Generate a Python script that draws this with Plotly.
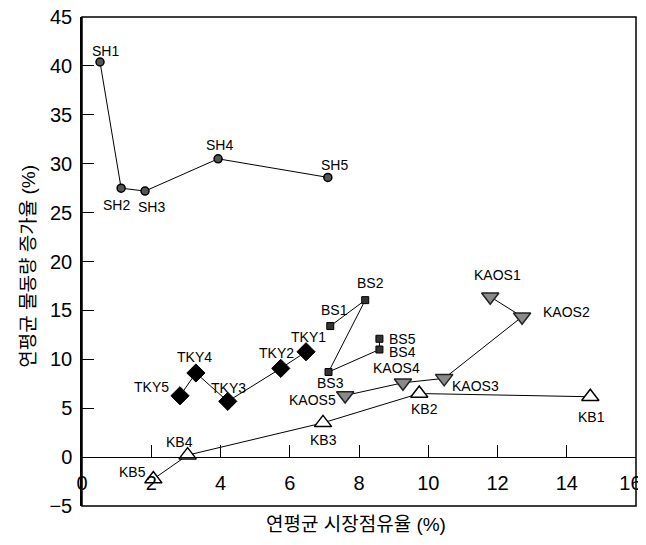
import plotly.graph_objects as go

# ---- data ----
sh_names = ["SH1", "SH2", "SH3", "SH4", "SH5"]
sh_x = [0.52, 1.13, 1.82, 3.93, 7.1]
sh_y = [40.4, 27.5, 27.2, 30.5, 28.6]

bs_names = ["BS1", "BS2", "BS3", "BS4", "BS5"]
bs_x = [7.17, 8.18, 7.12, 8.59, 8.59]
bs_y = [13.4, 16.05, 8.7, 11.0, 12.1]

kaos_names = ["KAOS1", "KAOS2", "KAOS3", "KAOS4", "KAOS5"]
kaos_x = [11.79, 12.71, 10.46, 9.27, 7.6]
kaos_y = [16.4, 14.35, 8.05, 7.6, 6.3]

kb_names = ["KB1", "KB2", "KB3", "KB4", "KB5"]
kb_x = [14.68, 9.74, 6.96, 3.05, 2.06]
kb_y = [6.17, 6.5, 3.5, 0.2, -2.25]

tky_names = ["TKY1", "TKY2", "TKY3", "TKY4", "TKY5"]
tky_x = [6.47, 5.74, 4.21, 3.29, 2.83]
tky_y = [10.77, 9.07, 5.7, 8.6, 6.27]

x_ticks = [0, 2, 4, 6, 8, 10, 12, 14, 16]
x_tick_labels = ["0", "2", "4", "6", "8", "10", "12", "14", "16\u00a0\u00a0"]
y_ticks = [-5, 0, 5, 10, 15, 20, 25, 30, 35, 40, 45]

# label offsets in pixels (style)
sh_off = [(5, 11), (-5, -17), (6, -16), (1, 14), (7, 12)]
bs_off = [(4, 16), (5, 17), (2, -11), (23, -2), (23, 0)]
kaos_off = [(7, 22), (44, 5), (31, -8), (-6, 15), (-33, -5)]
kb_off = [(1, -20), (5, -15), (1, -17), (-8, 13), (-21, 7)]
tky_off = [(2, 15), (-4, 15), (1, 13), (-1, 16), (-28, 9)]

FONT = "Liberation Sans, Arial, Noto Sans CJK KR, sans-serif"
fig = go.Figure()

series = [
    (sh_names, sh_x, sh_y, sh_off, dict(symbol="circle", size=8, color="#555555",
                                         line=dict(color="black", width=1.5))),
    (bs_names, bs_x, bs_y, bs_off, dict(symbol="square", size=7, color="#333333",
                                         line=dict(color="black", width=1))),
    (kaos_names, kaos_x, kaos_y, kaos_off, dict(symbol="triangle-down", size=15, color="#8a8a8a",
                                                 line=dict(color="#222222", width=1.5))),
    (kb_names, kb_x, kb_y, kb_off, dict(symbol="triangle-up", size=15, color="white",
                                         line=dict(color="black", width=1.5))),
    (tky_names, tky_x, tky_y, tky_off, dict(symbol="diamond", size=14, color="black",
                                             line=dict(color="black", width=1))),
]

annotations = []
for names, xs, ys, offs, mk in series:
    fig.add_trace(go.Scatter(x=xs, y=ys, mode="lines+markers",
                             line=dict(color="black", width=1), marker=mk,
                             showlegend=False, cliponaxis=False))
    for n, xv, yv, (dx, dy) in zip(names, xs, ys, offs):
        annotations.append(dict(x=xv, y=yv, text=n, showarrow=False,
                                xshift=dx, yshift=dy,
                                font=dict(size=14, color="black", family=FONT)))

annotations.append(dict(x=0.495, y=-0.012, xref="paper", yref="paper", xanchor="center",
                        yanchor="top", showarrow=False, text="연평균 시장점유율 (%)",
                        font=dict(size=19, color="black", family=FONT)))
annotations.append(dict(x=-0.097, y=0.49, xref="paper", yref="paper", xanchor="center",
                        yanchor="middle", showarrow=False, textangle=-90,
                        text="연평균 물동량 증가율 (%)",
                        font=dict(size=19, color="black", family=FONT)))

# page body adds an 8px margin at top/left, so the figure is sized/offset to compensate
fig.update_layout(
    width=638, height=537,
    margin=dict(l=74, r=10, t=9, b=39, autoexpand=False),
    paper_bgcolor="white", plot_bgcolor="white",
    font=dict(family=FONT, color="black"),
    annotations=annotations,
    shapes=[dict(type="rect", xref="paper", yref="paper", x0=0, y0=0, x1=1, y1=1,
                 line=dict(color="black", width=1.5))],
    xaxis=dict(range=[0, 16], tickvals=x_ticks, ticktext=x_tick_labels,
               ticks="inside", ticklen=12,
               tickcolor="black", showgrid=False, zeroline=False, showline=True,
               linecolor="black", linewidth=1.2, anchor="free", position=0.1,
               automargin=False, ticklabeloverflow="allow",
               ticklabelstandoff=8, tickfont=dict(size=20, family=FONT)),
    yaxis=dict(range=[-5, 45], tickvals=y_ticks, ticks="inside", ticklen=12,
               tickcolor="black", showgrid=False, zeroline=False, showline=True,
               linecolor="black", linewidth=1.5, ticklabelstandoff=4,
               automargin=False, ticklabeloverflow="allow",
               tickfont=dict(size=20, family=FONT)),
)

fig.write_html("out.html")
